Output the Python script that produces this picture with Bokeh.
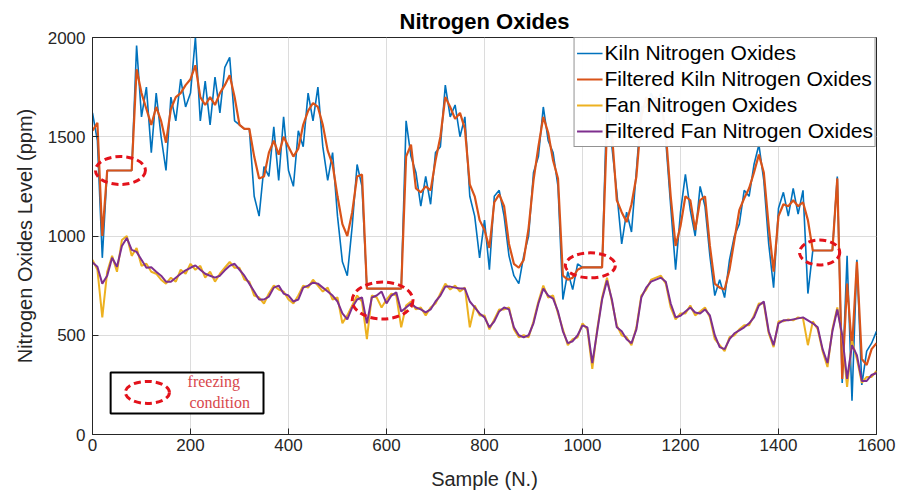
import numpy as np
from bokeh.plotting import figure
from bokeh.models import LinearAxis, Range1d, FixedTicker, Legend, LegendItem
from bokeh.core.properties import value
from bokeh.embed import file_html
from bokeh.resources import INLINE

sample = list(range(0, 1601, 10))

kiln_raw = [
    1620, 1480, 890, 1330, 1330, 1330, 1330, 1330, 1330, 1960,
    1600, 1750, 1420, 1720, 1500, 1330, 1700, 1580, 1790, 1650,
    1720, 2000, 1580, 1780, 1560, 1800, 1620, 1850, 1900, 1580,
    1560, 1540, 1540, 1200, 1100, 1350, 1300, 1550, 1280, 1600,
    1330, 1250, 1530, 1450, 1720, 1580, 1750, 1450, 1280, 1420,
    1100, 870, 800, 1050, 1360, 1250, 735, 735, 735, 735,
    735, 735, 735, 735, 1580, 1400, 1320, 1150, 1300, 1160,
    1420, 1450, 1760, 1600, 1660, 1500, 1600, 1200, 1100, 890,
    1080, 830, 1200, 1230, 1100, 900, 800, 760, 900, 1000,
    1320, 1400, 1650, 1480, 1420, 1250, 680, 820, 730, 860,
    842, 842, 842, 842, 842, 1700, 1450, 1220, 960, 1120,
    1020, 1330, 1650, 1650, 1720, 1660, 1720, 1480, 1150, 830,
    1120, 1310, 1130, 1000, 1250, 1150, 900, 700, 780, 690,
    880, 1000, 1060, 1230, 1200, 1360, 1460, 1280, 960, 740,
    1140, 1220, 1100, 1240, 1110, 1230, 710, 927, 927, 927,
    927, 927, 1300, 260, 900, 170, 880, 250, 420, 460,
    520]

kiln_filtered = [
    1530, 1570, 1000, 1330, 1330, 1330, 1330, 1330, 1330, 1840,
    1720, 1640, 1560, 1650, 1580, 1470, 1640, 1700, 1720, 1760,
    1790, 1860, 1700, 1660, 1700, 1660, 1720, 1760, 1810, 1700,
    1560, 1540, 1540, 1400, 1290, 1300, 1420, 1480, 1410, 1500,
    1450, 1400, 1440, 1560, 1630, 1670, 1650, 1560, 1430, 1360,
    1200, 1060, 1000, 1120, 1300, 1310, 735, 735, 735, 735,
    735, 735, 735, 735, 1400, 1460, 1240, 1220, 1250, 1230,
    1380, 1500, 1700, 1650, 1590, 1620, 1540, 1260, 1200, 1080,
    1030, 940, 1170, 1210, 1150, 960, 860, 840, 880, 1040,
    1280, 1450, 1600, 1520, 1380, 1290, 800, 780, 790, 830,
    842, 842, 842, 842, 842, 1550, 1520, 1180, 1120, 1070,
    1160, 1300, 1600, 1700, 1650, 1700, 1680, 1520, 1200, 950,
    1050, 1200, 1180, 1030, 1180, 1200, 950, 760, 740, 730,
    830, 980, 1130, 1190, 1240, 1320, 1410, 1320, 1050, 820,
    1100, 1160, 1150, 1180, 1150, 1170, 1080, 927, 927, 927,
    927, 927, 1290, 280, 760, 430, 870, 380, 350, 430,
    460]

fan_raw = [
    880, 830, 590, 820, 900, 820, 980, 1000, 900, 940,
    850, 860, 820, 810, 780, 760, 790, 770, 830, 810,
    860, 830, 850, 790, 820, 770, 810, 840, 870, 840,
    840, 780, 770, 700, 690, 660, 710, 750, 730, 720,
    680, 660, 700, 750, 740, 780, 750, 720, 740, 680,
    690, 560, 600, 650, 700, 670, 480, 700, 690, 640,
    680, 710, 700, 540, 650, 670, 630, 640, 600, 640,
    660, 710, 760, 730, 750, 720, 740, 540, 650, 600,
    600, 530, 580, 630, 630, 640, 530, 490, 500, 490,
    570, 670, 750, 690, 700, 610, 530, 450, 480, 490,
    560, 530, 330, 530, 690, 790, 670, 550, 500, 490,
    450, 540, 700, 730, 780, 790, 800, 760, 640, 580,
    610, 610, 650, 600, 620, 640, 590, 480, 450, 420,
    490, 500, 530, 550, 550, 600, 660, 660, 510, 440,
    570, 570, 580, 575, 590, 585, 450, 570, 530, 420,
    340, 530, 640, 490, 240, 470, 380, 260, 290, 290,
    320]

fan_filtered = [
    867, 845, 760, 800, 890, 845, 950, 990, 930, 920,
    880, 840, 842, 820, 800, 770, 770, 790, 810, 827,
    840, 852, 830, 810, 800, 790, 800, 827, 850, 860,
    830, 800, 760, 720, 680, 680, 695, 740, 750, 710,
    700, 670, 680, 740, 750, 765, 760, 740, 720, 700,
    670, 610, 580, 640, 680, 690, 560, 690, 700, 720,
    660, 700, 716, 620, 640, 660, 640, 630, 615, 630,
    670, 700, 745, 745, 740, 735, 735, 670, 640, 610,
    590, 540, 570, 620, 640, 630, 540, 500, 490, 500,
    560, 660, 735, 700, 685, 620, 520, 460, 470, 500,
    550, 540, 360, 520, 680, 776, 680, 540, 520, 480,
    460, 530, 690, 740, 770, 780, 790, 770, 660, 590,
    598, 620, 640, 615, 610, 630, 600, 500, 440, 430,
    480, 510, 525, 540, 560, 590, 650, 670, 520, 450,
    560, 575, 575, 580, 585, 590, 575, 560, 540, 430,
    360, 520, 630, 500, 280, 450, 400, 270, 270, 300,
    310]

series_names = ["Kiln Nitrogen Oxides", "Filtered Kiln Nitrogen Oxides",
                "Fan Nitrogen Oxides", "Filtered Fan Nitrogen Oxides"]

# freezing condition markers (center sample, center level, width in samples, height in ppm)
freeze_x = [57, 592, 1016, 1484]
freeze_y = [1330, 675, 852, 917]
freeze_w = [102, 124, 102, 82]
freeze_h = [141, 186, 126, 126]

x_ticks = [0, 200, 400, 600, 800, 1000, 1200, 1400, 1600]
y_ticks = [0, 500, 1000, 1500, 2000]

FONT = "Liberation Sans"
TXT = "#262626"

p = figure(width=904, height=495, x_range=Range1d(0, 1600), y_range=Range1d(0, 2000),
           output_backend="svg", toolbar_location=None,
           min_border_left=92, min_border_right=28, min_border_top=37, min_border_bottom=61)

p.title.text = "Nitrogen Oxides"
p.title.align = "center"
p.title.text_font = FONT
p.title.text_font_size = "22px"
p.title.text_font_style = "bold"
p.title.text_color = "black"
p.title.standoff = 7

p.outline_line_color = "#262626"
p.outline_line_width = 1

for ax in (p.xaxis[0], p.yaxis[0]):
    ax.major_label_text_font = FONT
    ax.major_label_text_font_size = "17px"
    ax.major_label_text_color = TXT
    ax.axis_label_text_font = FONT
    ax.axis_label_text_font_size = "20px"
    ax.axis_label_text_font_style = "normal"
    ax.axis_label_text_color = TXT
    ax.major_tick_in = 6
    ax.major_tick_out = 0
    ax.minor_tick_in = 0
    ax.minor_tick_out = 0
    ax.axis_line_color = "#262626"
    ax.major_tick_line_color = "#262626"

p.xaxis[0].ticker = FixedTicker(ticks=x_ticks)
p.yaxis[0].ticker = FixedTicker(ticks=y_ticks)
p.xaxis[0].axis_label = "Sample (N.)"
p.yaxis[0].axis_label = "Nitrogen Oxides Level (ppm)"
p.xaxis[0].major_label_standoff = 4
p.yaxis[0].major_label_standoff = 7
p.xaxis[0].axis_label_standoff = 14
p.yaxis[0].axis_label_standoff = 9

p.xgrid.ticker = FixedTicker(ticks=x_ticks)
p.ygrid.ticker = FixedTicker(ticks=y_ticks)
p.grid.grid_line_color = "#DCDCDC"
p.grid.grid_line_width = 1

r1 = p.line(sample, kiln_raw, line_color="#0072BD", line_width=1.6)
r2 = p.line(sample, kiln_filtered, line_color="#D95319", line_width=2.2)
r3 = p.line(sample, fan_raw, line_color="#EDB120", line_width=2.0)
r4 = p.line(sample, fan_filtered, line_color="#7E2F8E", line_width=2.0)

p.ellipse(x=freeze_x, y=freeze_y, width=freeze_w, height=freeze_h,
          fill_alpha=0, line_color="#E3121B", line_width=3, line_dash="7 4")

# small "freezing condition" key box
p.quad(left=[37], right=[349], bottom=[106], top=[312], fill_color="white",
       line_color="black", line_width=2)
p.ellipse(x=[112], y=[212], width=[90], height=[111], fill_alpha=0,
          line_color="#E3121B", line_width=3, line_dash="7 4")
p.text(x=[194, 198], y=[267, 161], text=["freezing", "condition"],
       text_font=value("Liberation Serif"), text_font_size="16px",
       text_color="#D8474C", text_baseline="middle", text_align="left")

legend = Legend(items=[LegendItem(label=series_names[0], renderers=[r1]),
                       LegendItem(label=series_names[1], renderers=[r2]),
                       LegendItem(label=series_names[2], renderers=[r3]),
                       LegendItem(label=series_names[3], renderers=[r4])],
                location="top_right")
legend.margin = 0
legend.padding = 2
legend.spacing = 0
legend.border_line_color = "#262626"
legend.border_line_width = 1.2
legend.label_text_font = FONT
legend.label_text_font_size = "21px"
legend.label_text_color = "black"
legend.glyph_width = 26
legend.glyph_height = 26
legend.label_height = 26
legend.label_standoff = 2
p.add_layout(legend, "center")

open("out.html", "w").write(file_html(p, INLINE))
